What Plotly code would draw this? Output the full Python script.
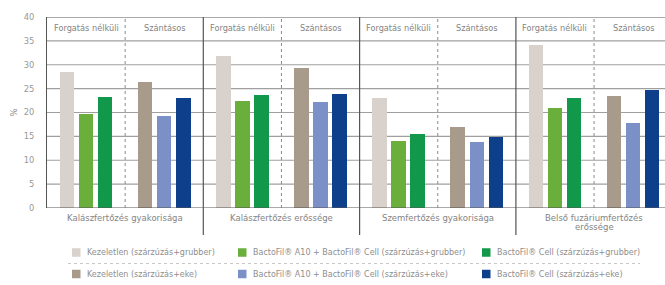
import plotly.graph_objects as go

groups = ["Kalászfertőzés gyakorisága", "Kalászfertőzés erőssége",
          "Szemfertőzés gyakorisága", "Belső fuzáriumfertőzés<br>erőssége"]
subgroups = ["Forgatás nélküli", "Szántásos"]
series_names = [
    "Kezeletlen (szárzúzás+grubber)",
    "BactoFil® A10 + BactoFil® Cell (szárzúzás+grubber)",
    "BactoFil® Cell (szárzúzás+grubber)",
    "Kezeletlen (szárzúzás+eke)",
    "BactoFil® A10 + BactoFil® Cell (szárzúzás+eke)",
    "BactoFil® Cell (szárzúzás+eke)",
]
kez_grubber = [28.4, 31.9, 23.1, 34.1]
a10_grubber = [19.6, 22.5, 14.1, 21.0]
cell_grubber = [23.3, 23.6, 15.6, 23.1]
kez_eke = [26.4, 29.4, 16.9, 23.5]
a10_eke = [19.2, 22.2, 13.9, 17.7]
cell_eke = [23.0, 23.8, 14.8, 24.7]
series_values = [kez_grubber, a10_grubber, cell_grubber, kez_eke, a10_eke, cell_eke]
colors = ["#d9d1cc", "#6aae3c", "#12984a", "#a99b8c", "#7a90c6", "#0e3f8a"]
y_ticks = [0, 5, 10, 15, 20, 25, 30, 35, 40]

FONT = "DejaVu Sans"
TXT = "#848484"

# layout geometry (pixels)
W, H = 665, 285
ML, MT, MB = 47, 17, 77
group_px = 156.3
plot_w = W - ML
plot_h = H - MT - MB
x_right = -0.5 + plot_w / group_px

sub_off = [-0.25, 0.25]
bar_off = [-0.122, 0.0, 0.122]
bar_w = 0.093

fig = go.Figure()
for s, (name, vals, col) in enumerate(zip(series_names, series_values, colors)):
    sg = s // 3
    b = s % 3
    xs = [g + sub_off[sg] + bar_off[b] for g in range(len(groups))]
    fig.add_trace(go.Bar(x=xs, y=vals, width=bar_w, name=name,
                         marker=dict(color=col, line=dict(width=0)),
                         showlegend=False, hovertemplate=name + ": %{y}<extra></extra>"))

shapes = []
ann = []
grid_col = "#9f9f9f"
dark = "#555555"
for t in y_ticks[1:-1]:
    shapes.append(dict(type="line", xref="paper", yref="y", x0=0, x1=1, y0=t, y1=t,
                       line=dict(color=grid_col, width=1.1), layer="below"))
shapes.append(dict(type="line", xref="paper", yref="y", x0=0, x1=1, y0=40, y1=40,
                   line=dict(color=dark, width=1)))
shapes.append(dict(type="line", xref="paper", yref="y", x0=0, x1=1, y0=0, y1=0,
                   line=dict(color=dark, width=1.2)))
below = -(235 - (H - MB)) / plot_h
for g in range(len(groups) - 1):
    shapes.append(dict(type="line", xref="x", yref="paper", x0=g + 0.5, x1=g + 0.5,
                       y0=below, y1=1, line=dict(color=dark, width=1.2)))
for g in range(len(groups)):
    shapes.append(dict(type="line", xref="x", yref="y", x0=g, x1=g, y0=0, y1=40,
                       line=dict(color="#8a8a8a", width=1, dash="dot")))
    for sg, lab in enumerate(subgroups):
        ann.append(dict(x=g + sub_off[sg], y=37.6, xref="x", yref="y", text=lab,
                        showarrow=False, font=dict(family=FONT, size=8.2, color=TXT)))
    for li, line in enumerate(groups[g].split("<br>")):
        ann.append(dict(x=g, y=0, xref="x", yref="paper", text=line,
                        yshift=-(10 + 9 * li), showarrow=False, yanchor="middle",
                        font=dict(family=FONT, size=8.5, color=TXT)))

ann.append(dict(x=0, y=0.5, xref="paper", yref="paper", xshift=13 - ML,
                xanchor="center", yanchor="middle",
                text="%", textangle=-90, showarrow=False,
                font=dict(family=FONT, size=8.5, color=TXT)))

# manual legend
col_x = [72, 238, 482]
row_y = [252.5, 274]
sq = 8.5
for s, (name, col) in enumerate(zip(series_names, colors)):
    r = s // 3
    c = s % 3
    x0 = (col_x[c] - ML) / plot_w
    x1 = (col_x[c] + sq - ML) / plot_w
    yc = row_y[r]
    y0 = (H - MB - (yc + sq / 2)) / plot_h
    y1 = (H - MB - (yc - sq / 2)) / plot_h
    shapes.append(dict(type="rect", xref="paper", yref="paper", x0=x0, x1=x1, y0=y0, y1=y1,
                       fillcolor=col, line=dict(width=0)))
    ann.append(dict(x=(col_x[c] + sq + 4 - ML) / plot_w, y=(H - MB - yc) / plot_h,
                    xref="paper", yref="paper", text=name, showarrow=False,
                    xanchor="left", yanchor="middle",
                    font=dict(family=FONT, size=8.0, color="#8e8e8e")))
ly = (H - MB - 263.5) / plot_h
shapes.append(dict(type="line", xref="paper", yref="paper",
                   x0=(68 - ML) / plot_w, x1=(640 - ML) / plot_w, y0=ly, y1=ly,
                   line=dict(color="#c8c8c8", width=1, dash="dot")))

fig.update_layout(
    width=W, height=H,
    margin=dict(l=ML, r=0, t=MT, b=MB, autoexpand=False),
    paper_bgcolor="white", plot_bgcolor="white",
    font=dict(family=FONT, color=TXT),
    bargap=0,
    xaxis=dict(range=[-0.5, x_right], showgrid=False, showticklabels=False, zeroline=False,
               showline=False, fixedrange=True, automargin=False),
    yaxis=dict(range=[0, 40], tickvals=y_ticks, showgrid=False, zeroline=False,
               showline=True, linecolor=dark, linewidth=1.2, ticks="", ticklabelstandoff=10,
               tickfont=dict(family=FONT, size=8.3, color="#999"), automargin=False,
               fixedrange=True),
    shapes=shapes, annotations=ann,
)

fig.write_html("out.html", config={"displayModeBar": False},
               post_script="document.body.style.margin='0';document.body.style.padding='0';")
